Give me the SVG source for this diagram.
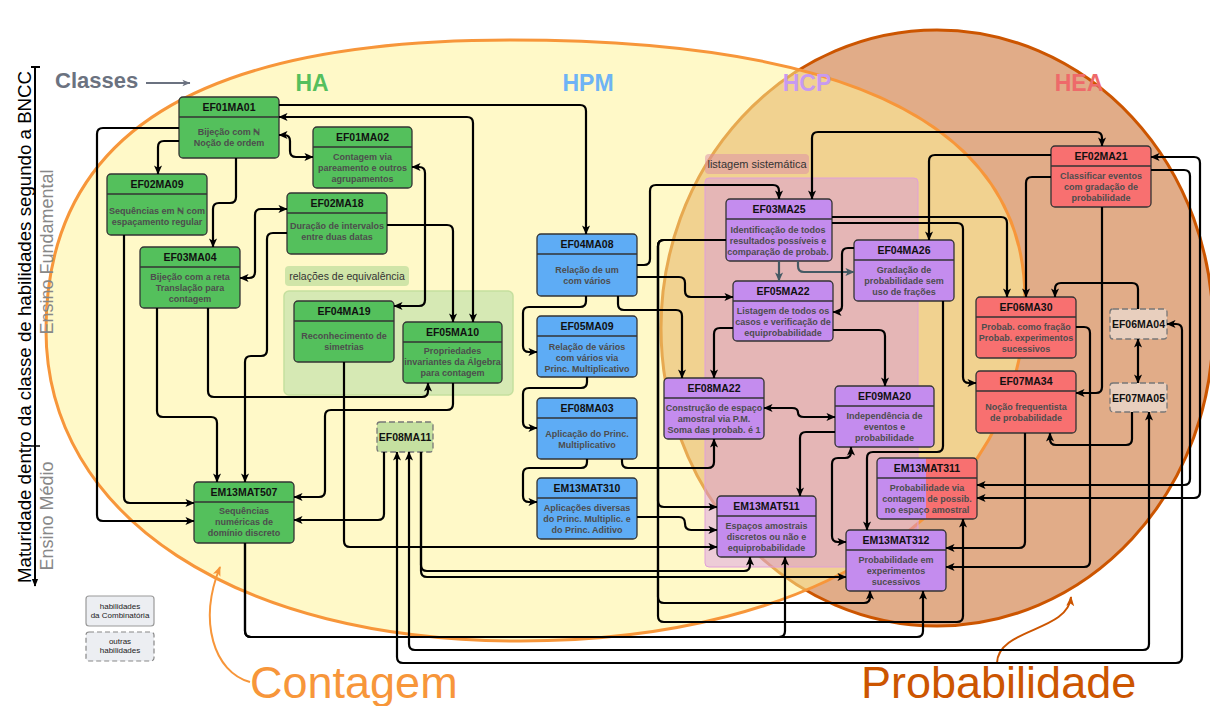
<svg xmlns="http://www.w3.org/2000/svg" width="1210" height="706" viewBox="0 0 1210 706">
<defs>
<style>
.nb{stroke:#333;stroke-width:1.3}
.g{fill:#54c05c}.b{fill:#5eacf5}.p{fill:#c48cee}.r{fill:#f87070}.s{fill:url(#split)}
.dv{stroke:#333;stroke-width:1.3}
.dash{stroke:#777;stroke-width:1.3;stroke-dasharray:6,3}
.h{font:bold 10.5px "Liberation Sans",Arial,sans-serif;fill:#111;text-anchor:middle}
.t{font:bold 9px "Liberation Sans",Arial,sans-serif;fill:#4d4d4d;text-anchor:middle}
.c{fill:none;stroke:#000;stroke-width:2.2;stroke-linejoin:round;marker-end:url(#ah)}
.bi{marker-start:url(#ah)}
.cg{fill:none;stroke:#455a64;stroke-width:2.2;marker-end:url(#ahg)}
.cls{font:bold 23px "Liberation Sans",Arial,sans-serif;text-anchor:middle}
.lg{font:8px "Liberation Sans",Arial,sans-serif;fill:#222;text-anchor:middle}
</style>
<linearGradient id="split" x1="0" y1="0" x2="1" y2="0"><stop offset="0.49" stop-color="#c48cee"/><stop offset="0.49" stop-color="#f87070"/></linearGradient>
<marker id="ah" viewBox="0 0 10 10" refX="9.5" refY="5" markerWidth="9" markerHeight="9" markerUnits="userSpaceOnUse" orient="auto-start-reverse"><path d="M0,0.5 L10,5 L0,9.5 L2.5,5 Z" fill="#000"/></marker>
<marker id="ahg" viewBox="0 0 10 10" refX="9.5" refY="5" markerWidth="9" markerHeight="9" markerUnits="userSpaceOnUse" orient="auto"><path d="M0,0.5 L10,5 L0,9.5 L2.5,5 Z" fill="#455a64"/></marker>
<marker id="ahc" viewBox="0 0 10 10" refX="9.5" refY="5" markerWidth="9" markerHeight="8" markerUnits="userSpaceOnUse" orient="auto"><path d="M0,1 L10,5 L0,9 L2.5,5 Z" fill="#6b7280"/></marker>
<marker id="aho" viewBox="0 0 10 10" refX="9" refY="5" markerWidth="10" markerHeight="10" markerUnits="userSpaceOnUse" orient="auto"><path d="M0,1 L10,5 L0,9 L2.5,5 Z" fill="#f7963a"/></marker>
<marker id="ahr" viewBox="0 0 10 10" refX="9" refY="5" markerWidth="10" markerHeight="10" markerUnits="userSpaceOnUse" orient="auto"><path d="M0,1 L10,5 L0,9 L2.5,5 Z" fill="#cc5500"/></marker>
<marker id="ahk" viewBox="0 0 10 10" refX="9" refY="5" markerWidth="8" markerHeight="8" markerUnits="userSpaceOnUse" orient="auto"><path d="M0,1 L10,5 L0,9 Z" fill="#000"/></marker>
</defs>
<rect x="0" y="0" width="1210" height="706" fill="#ffffff"/>

<g id="sets">
<ellipse cx="937" cy="328" rx="276" ry="298" fill="#e1ac88" stroke="#cc5500" stroke-width="3"/>
<path d="M46,330 C46,133 199,40 510,40 C870,40 1025,135 1025,300 C1025,505 823,641 520,641 C237,641 46,517 46,330 Z" fill="#fff397" fill-opacity="0.53" stroke="#f7963a" stroke-width="3"/>
</g>

<g id="groups">
<rect x="705" y="178" width="213" height="389" rx="4" fill="#d590ed" fill-opacity="0.42" stroke="#e0a0d8" stroke-width="1"/>
<rect x="705" y="154" width="104" height="20" rx="4" fill="#dc8ca8" fill-opacity="0.5"/>
<text x="757" y="168" style="font:11px 'Liberation Sans',Arial,sans-serif;fill:#333;text-anchor:middle">listagem sistemática</text>
<rect x="284" y="291" width="229" height="104" rx="5" fill="#d6e9b4" stroke="#c5df9e" stroke-width="1.5"/>
<rect x="285" y="266" width="124" height="20" rx="4" fill="#d0e5a8"/>
<text x="347" y="280" style="font:10.5px 'Liberation Sans',Arial,sans-serif;fill:#333;text-anchor:middle">relações de equivalência</text>
</g>

<g id="labels">
<text x="55" y="88" style="font:bold 22px 'Liberation Sans',Arial,sans-serif;fill:#6b7280">Classes</text>
<line x1="146" y1="83" x2="190" y2="83" stroke="#6b7280" stroke-width="2" marker-end="url(#ahc)"/>
<text class="cls" x="312" y="91" fill="#55bf5d">HA</text>
<text class="cls" x="588" y="91" fill="#6eb3f5">HPM</text>
<text class="cls" x="807" y="91" fill="#c79af0">HCP</text>
<text class="cls" x="1079" y="91" fill="#ee6a6a">HEA</text>
<line x1="35" y1="67" x2="35" y2="586" stroke="#000" stroke-width="2" marker-end="url(#ahk)"/>
<line x1="31" y1="67" x2="40" y2="67" stroke="#000" stroke-width="2"/>
<line x1="31" y1="446" x2="40" y2="446" stroke="#000" stroke-width="1.5"/>
<text transform="translate(30.5,327) rotate(-90)" style="font:18.7px 'Liberation Sans',Arial,sans-serif;fill:#000;text-anchor:middle">Maturidade dentro da classe de habilidades segundo a BNCC</text>
<text transform="translate(53,252) rotate(-90)" style="font:18px 'Liberation Sans',Arial,sans-serif;fill:#888;text-anchor:middle">Ensino Fundamental</text>
<text transform="translate(53,516) rotate(-90)" style="font:18px 'Liberation Sans',Arial,sans-serif;fill:#888;text-anchor:middle">Ensino Médio</text>
<text x="250" y="698" style="font:45px 'Liberation Sans',Arial,sans-serif;fill:#f7963a">Contagem</text>
<path d="M250,682 C214,672 198,622 220,567" fill="none" stroke="#f7963a" stroke-width="2" marker-end="url(#aho)"/>
<text x="861" y="698" style="font:45px 'Liberation Sans',Arial,sans-serif;fill:#cc5500">Probabilidade</text>
<path d="M997,663 C998,628 1068,632 1071,597" fill="none" stroke="#cc5500" stroke-width="2" marker-end="url(#ahr)"/>
</g>

<g id="legend-combinatoria">
<rect x="86" y="596" width="68" height="30" rx="3" fill="#eceef2" stroke="#9a9a9a" stroke-width="1.2"/>
<text class="lg" x="120" y="608.5">habilidades</text>
<text class="lg" x="120" y="617.5">da Combinatória</text>
</g>
<g id="legend-outras">
<rect x="86" y="632" width="68" height="29" rx="3" fill="#eceef2" stroke="#888" stroke-width="1.2" stroke-dasharray="5,3"/>
<text class="lg" x="120" y="644">outras</text>
<text class="lg" x="120" y="653">habilidades</text>
</g>

<g id="EF01MA01"><rect class="nb g" x="179" y="97" width="100" height="61" rx="4"/><line class="dv" x1="179" y1="117" x2="279" y2="117"/><text class="h" x="229" y="111">EF01MA01</text><text class="t" x="229" y="135">Bijeção com ℕ</text><text class="t" x="229" y="146">Noção de ordem</text></g>
<g id="EF02MA09"><rect class="nb g" x="107" y="174" width="100" height="61" rx="4"/><line class="dv" x1="107" y1="194" x2="207" y2="194"/><text class="h" x="157" y="188">EF02MA09</text><text class="t" x="157" y="214">Sequências em ℕ com</text><text class="t" x="157" y="225">espaçamento regular</text></g>
<g id="EF03MA04"><rect class="nb g" x="140" y="247" width="100" height="61" rx="4"/><line class="dv" x1="140" y1="267" x2="240" y2="267"/><text class="h" x="190" y="261">EF03MA04</text><text class="t" x="190" y="280">Bijeção com a reta</text><text class="t" x="190" y="291">Translação para</text><text class="t" x="190" y="302">contagem</text></g>
<g id="EF01MA02"><rect class="nb g" x="313" y="127" width="99" height="61" rx="4"/><line class="dv" x1="313" y1="147" x2="412" y2="147"/><text class="h" x="362.5" y="141">EF01MA02</text><text class="t" x="362.5" y="160">Contagem via</text><text class="t" x="362.5" y="171">pareamento e outros</text><text class="t" x="362.5" y="182">agrupamentos</text></g>
<g id="EF02MA18"><rect class="nb g" x="287" y="193" width="100" height="61" rx="4"/><line class="dv" x1="287" y1="213" x2="387" y2="213"/><text class="h" x="337" y="207">EF02MA18</text><text class="t" x="337" y="229">Duração de intervalos</text><text class="t" x="337" y="240">entre duas datas</text></g>
<g id="EF04MA19"><rect class="nb g" x="294" y="301" width="100" height="61" rx="4"/><line class="dv" x1="294" y1="321" x2="394" y2="321"/><text class="h" x="344" y="315">EF04MA19</text><text class="t" x="344" y="338.5">Reconhecimento de</text><text class="t" x="344" y="349.5">simetrias</text></g>
<g id="EF05MA10"><rect class="nb g" x="403" y="322" width="99" height="61" rx="4"/><line class="dv" x1="403" y1="342" x2="502" y2="342"/><text class="h" x="452.5" y="336">EF05MA10</text><text class="t" x="452.5" y="354">Propriedades</text><text class="t" x="452.5" y="365">invariantes da Álgebra</text><text class="t" x="452.5" y="376">para contagem</text></g>
<g id="EF08MA11"><rect x="377" y="422" width="56" height="30" rx="3" fill="#c5e0a0" class="dash"/><text class="h" x="405" y="441">EF08MA11</text></g>
<g id="EM13MAT507"><rect class="nb g" x="194" y="482" width="100" height="61" rx="4"/><line class="dv" x1="194" y1="502" x2="294" y2="502"/><text class="h" x="244" y="496">EM13MAT507</text><text class="t" x="244" y="513.5">Sequências</text><text class="t" x="244" y="524.5">numéricas de</text><text class="t" x="244" y="535.5">domínio discreto</text></g>

<g id="EF04MA08"><rect class="nb b" x="537" y="234" width="100" height="62" rx="4"/><line class="dv" x1="537" y1="254" x2="637" y2="254"/><text class="h" x="587" y="248">EF04MA08</text><text class="t" x="587" y="272.5">Relação de um</text><text class="t" x="587" y="283.5">com vários</text></g>
<g id="EF05MA09"><rect class="nb b" x="537" y="316" width="100" height="61" rx="4"/><line class="dv" x1="537" y1="336" x2="637" y2="336"/><text class="h" x="587" y="330">EF05MA09</text><text class="t" x="587" y="349.5">Relação de vários</text><text class="t" x="587" y="360.5">com vários via</text><text class="t" x="587" y="371.5">Princ. Multiplicativo</text></g>
<g id="EF08MA03"><rect class="nb b" x="537" y="398" width="100" height="61" rx="4"/><line class="dv" x1="537" y1="418" x2="637" y2="418"/><text class="h" x="587" y="412">EF08MA03</text><text class="t" x="587" y="436.5">Aplicação do Princ.</text><text class="t" x="587" y="447.5">Multiplicativo</text></g>
<g id="EM13MAT310"><rect class="nb b" x="537" y="478" width="100" height="61" rx="4"/><line class="dv" x1="537" y1="498" x2="637" y2="498"/><text class="h" x="587" y="492">EM13MAT310</text><text class="t" x="587" y="511">Aplicações diversas</text><text class="t" x="587" y="522">do Princ. Multiplic. e</text><text class="t" x="587" y="533">do Princ. Aditivo</text></g>

<g id="EF03MA25"><rect class="nb p" x="726" y="199" width="106" height="62" rx="4"/><line class="dv" x1="726" y1="219" x2="832" y2="219"/><text class="h" x="779" y="213">EF03MA25</text><text class="t" x="778" y="232.5">Identificação de todos</text><text class="t" x="778" y="243.5">resultados possíveis e</text><text class="t" x="778" y="254.5">comparação de probab.</text></g>
<g id="EF05MA22"><rect class="nb p" x="733" y="281" width="100" height="60" rx="4"/><line class="dv" x1="733" y1="301" x2="833" y2="301"/><text class="h" x="783" y="295">EF05MA22</text><text class="t" x="783" y="313.5">Listagem de todos os</text><text class="t" x="783" y="324.5">casos e verificação de</text><text class="t" x="783" y="335.5">equiprobabilidade</text></g>
<g id="EF04MA26"><rect class="nb p" x="854" y="240" width="100" height="61" rx="4"/><line class="dv" x1="854" y1="260" x2="954" y2="260"/><text class="h" x="904" y="254">EF04MA26</text><text class="t" x="904" y="273">Gradação de</text><text class="t" x="904" y="284">probabilidade sem</text><text class="t" x="904" y="295">uso de frações</text></g>
<g id="EF08MA22"><rect class="nb p" x="664" y="378" width="100" height="61" rx="4"/><line class="dv" x1="664" y1="398" x2="764" y2="398"/><text class="h" x="714" y="392">EF08MA22</text><text class="t" x="714" y="411">Construção de espaço</text><text class="t" x="714" y="422">amostral via P.M.</text><text class="t" x="714" y="433">Soma das probab. é 1</text></g>
<g id="EF09MA20"><rect class="nb p" x="835" y="386" width="99" height="61" rx="4"/><line class="dv" x1="835" y1="406" x2="934" y2="406"/><text class="h" x="884.5" y="400">EF09MA20</text><text class="t" x="884.5" y="419">Independência de</text><text class="t" x="884.5" y="430">eventos e</text><text class="t" x="884.5" y="441">probabilidade</text></g>
<g id="EM13MAT511"><rect class="nb p" x="717" y="496" width="99" height="61" rx="4"/><line class="dv" x1="717" y1="516" x2="816" y2="516"/><text class="h" x="766.5" y="510">EM13MAT511</text><text class="t" x="766.5" y="529">Espaços amostrais</text><text class="t" x="766.5" y="540">discretos ou não e</text><text class="t" x="766.5" y="551">equiprobabilidade</text></g>
<g id="EM13MAT312"><rect class="nb p" x="846" y="530" width="100" height="61" rx="4"/><line class="dv" x1="846" y1="550" x2="946" y2="550"/><text class="h" x="896" y="544">EM13MAT312</text><text class="t" x="896" y="563">Probabilidade em</text><text class="t" x="896" y="574">experimentos</text><text class="t" x="896" y="585">sucessivos</text></g>
<g id="EM13MAT311"><rect class="nb s" x="877" y="458" width="100" height="61" rx="4"/><line class="dv" x1="877" y1="478" x2="977" y2="478"/><text class="h" x="927" y="472">EM13MAT311</text><text class="t" x="927" y="491">Probabilidade via</text><text class="t" x="927" y="502">contagem de possib.</text><text class="t" x="927" y="513">no espaço amostral</text></g>

<g id="EF02MA21"><rect class="nb r" x="1051" y="146" width="100" height="61" rx="4"/><line class="dv" x1="1051" y1="166" x2="1151" y2="166"/><text class="h" x="1101" y="160">EF02MA21</text><text class="t" x="1101" y="179">Classificar eventos</text><text class="t" x="1101" y="190">com gradação de</text><text class="t" x="1101" y="201">probabilidade</text></g>
<g id="EF06MA30"><rect class="nb r" x="976" y="297" width="100" height="61" rx="4"/><line class="dv" x1="976" y1="317" x2="1076" y2="317"/><text class="h" x="1026" y="311">EF06MA30</text><text class="t" x="1026" y="330">Probab. como fração</text><text class="t" x="1026" y="341">Probab. experimentos</text><text class="t" x="1026" y="352">sucessivos</text></g>
<g id="EF07MA34"><rect class="nb r" x="976" y="371" width="100" height="62" rx="4"/><line class="dv" x1="976" y1="391" x2="1076" y2="391"/><text class="h" x="1026" y="385">EF07MA34</text><text class="t" x="1026" y="410">Noção frequentista</text><text class="t" x="1026" y="421">de probabilidade</text></g>
<g id="EF06MA04"><rect x="1110" y="309" width="57" height="30" rx="3" fill="#e8cfbe" class="dash"/><text class="h" x="1138.5" y="328">EF06MA04</text></g>
<g id="EF07MA05"><rect x="1110" y="383" width="57" height="29" rx="3" fill="#e8cfbe" class="dash"/><text class="h" x="1138.5" y="401.5">EF07MA05</text></g>

<g id="connectors">
<path class="c" d="M279,105 H580 Q586,105 586,111 V234"/>
<path class="c bi" d="M279,117 H467 Q473,117 473,123 V322"/>
<path class="c bi" d="M279,135 H284 Q290,135 290,141 V151 Q290,157 296,157 H313"/>
<path class="c" d="M179,141 H164 Q158,141 158,147 V174"/>
<path class="c" d="M236,158 V197 Q236,203 230,203 H219 Q213,203 213,209 V247"/>
<path class="c" d="M179,128 H103 Q97,128 97,134 V515 Q97,521 103,521 H194"/>
<path class="c" d="M124,235 V497 Q124,503 130,503 H194"/>
<path class="c" d="M157,308 V411 Q157,417 163,417 H211 Q217,417 217,423 V482"/>
<path class="c" d="M208,308 V391 Q208,397 214,397 H422 Q428,397 428,391 V383"/>
<path class="c" d="M287,233 H273 Q267,233 267,239 V350 Q267,356 261,356 H251 Q245,356 245,362 V482"/>
<path class="c bi" d="M240,278 H249 Q255,278 255,272 V215 Q255,209 261,209 H287"/>
<path class="c" d="M387,225 H447 Q453,225 453,231 V322"/>
<path class="c bi" d="M412,167 H419 Q425,167 425,173 V300 Q425,306 419,306 H394"/>
<path class="c" d="M344,362 V541 Q344,547 350,547 H717"/>
<path class="c" d="M453,383 V404 Q453,410 447,410 H331 Q325,410 325,416 V491 Q325,497 319,497 H294"/>
<path class="c" d="M384,452 V514 Q384,520 378,520 H294"/>
<path class="c" d="M421,452 V565 Q421,571 427,571 H744 Q750,571 750,565 V557"/>
<path class="c" d="M421,452 V571 Q421,577 427,577 H846"/>
<path class="c bi" d="M409,452 V644 Q409,650 415,650 H1143 Q1149,650 1149,644 V412"/>
<path class="c bi" d="M397,452 V657 Q397,663 403,663 H1176 Q1182,663 1182,657 V330 Q1182,324 1176,324 H1167"/>
<path class="c" d="M245,543 V631 Q245,637 251,637 H779 Q785,637 785,631 V557"/>
<path class="c" d="M245,543 V631 Q245,637 251,637 H917 Q923,637 923,631 V591"/>
<path class="c" d="M637,265 H644 Q650,265 650,259 V191 Q650,185 656,185 H773 Q779,185 779,191 V199"/>
<path class="c" d="M637,277 H679 Q685,277 685,283 V291 Q685,297 691,297 H733"/>
<path class="c" d="M618,296 V304 Q618,310 624,310 H676 Q682,310 682,316 V378"/>
<path class="c" d="M586,296 V301 Q586,307 580,307 H529 Q523,307 523,313 V346 Q523,352 529,352 H537"/>
<path class="c" d="M587,377 V382 Q587,388 581,388 H529 Q523,388 523,394 V422 Q523,428 529,428 H537"/>
<path class="c" d="M587,459 V462 Q587,468 581,468 H529 Q523,468 523,474 V496 Q523,502 529,502 H537"/>
<path class="c" d="M622,459 V462 Q622,468 628,468 H708 Q714,468 714,462 V439"/>
<path class="c" d="M637,517 H679 Q685,517 685,523.5 Q685,530 691,530 H717"/>
<path class="c" d="M726,240 H664 Q658,240 658,246 V501 Q658,507 664,507 H717"/>
<path class="c" d="M726,240 H664 Q658,240 658,246 V597 Q658,603 664,603 H864 Q870,603 870,597 V591"/>
<path class="c" d="M726,240 H664 Q658,240 658,246 V616 Q658,622 664,622 H957 Q963,622 963,616 V519"/>
<path class="cg" d="M779,261 V281"/>
<path class="cg" d="M798,261 V266 Q798,272 804,272 H854"/>
<path class="c bi" d="M812,199 V138 Q812,132 818,132 H1096 Q1102,132 1102,138 V146"/>
<path class="c" d="M832,217 H1001 Q1007,217 1007,223 V297"/>
<path class="c" d="M832,223 H957 Q963,223 963,229 V377 Q963,383 969,383 H976"/>
<path class="c" d="M733,328 H720 Q714,328 714,334 V378"/>
<path class="c" d="M833,330 H879 Q885,330 885,336 V386"/>
<path class="c" d="M854,248 H848 Q842,248 842,254 V306 Q842,312 836,312 H833"/>
<path class="c" d="M943,301 V446 Q943,452 937,452 H873 Q867,452 867,458 V530"/>
<path class="c bi" d="M764,408 H792 Q798,408 798,412.5 Q798,417 804,417 H835"/>
<path class="c" d="M835,432 H806 Q800,432 800,438 V496"/>
<path class="c bi" d="M851,447 V452 Q851,458 845,458 H838 Q832,458 832,464 V536 Q832,542 838,542 H846"/>
<path class="c" d="M1051,155 H935 Q929,155 929,161 V240"/>
<path class="c" d="M1051,177 H1032 Q1026,177 1026,183 V297"/>
<path class="c" d="M1102,207 V387 Q1102,393 1096,393 H1076"/>
<path class="c" d="M1151,170 H1184 Q1190,170 1190,176 V479 Q1190,485 1184,485 H977"/>
<path class="c bi" d="M1151,157 H1194 Q1200,157 1200,163 V492 Q1200,498 1194,498 H977"/>
<path class="c" d="M1138,309 V289 Q1138,283 1132,283 H1061 Q1055,283 1055,289 V297"/>
<path class="c bi" d="M1138,339 V383"/>
<path class="c" d="M1132,412 V439 Q1132,445 1126,445 H1056 Q1050,445 1050,439 V433"/>
<path class="c" d="M1076,327 H1084 Q1090,327 1090,333 V561 Q1090,567 1084,567 H946"/>
<path class="c" d="M1025,433 V542 Q1025,548 1019,548 H946"/>
</g>
</svg>
